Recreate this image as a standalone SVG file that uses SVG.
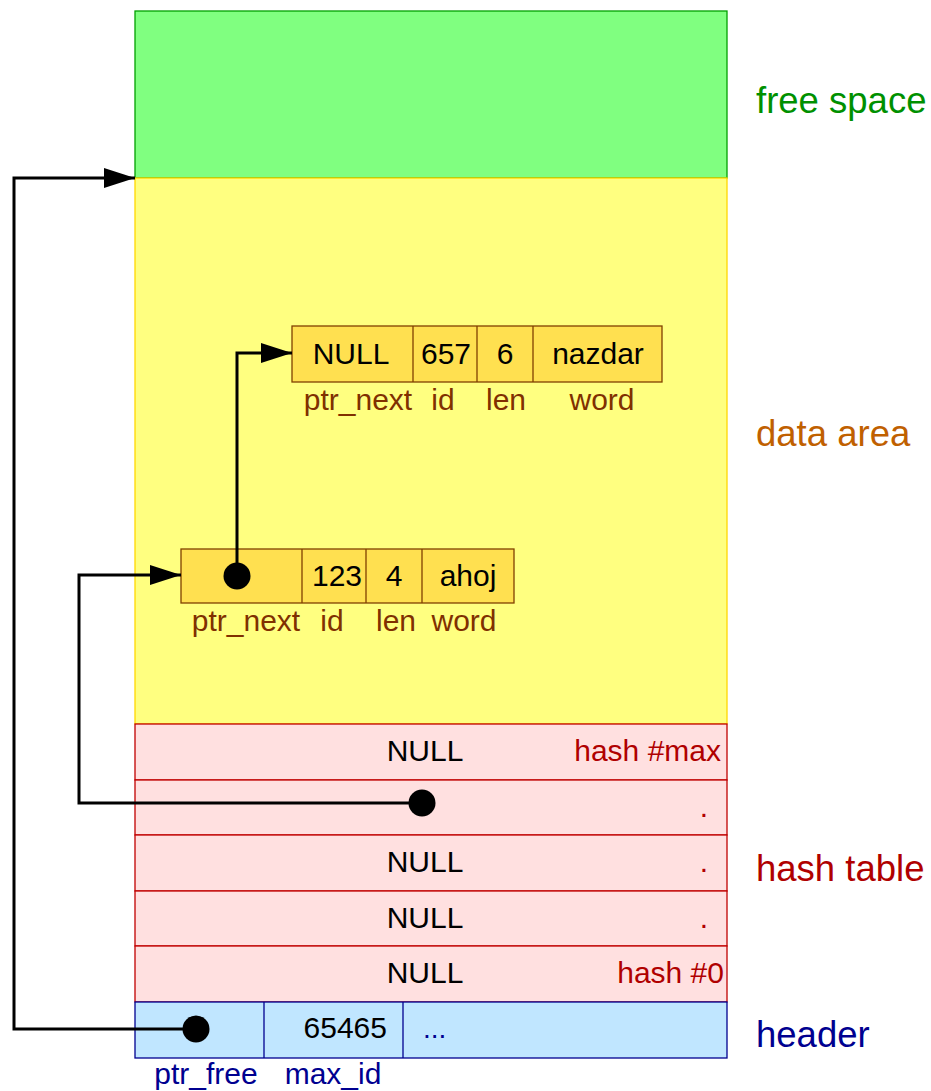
<svg xmlns="http://www.w3.org/2000/svg" width="931" height="1091" viewBox="0 0 931 1091">
<defs>
<marker id="arr" markerUnits="userSpaceOnUse" markerWidth="32" markerHeight="20" refX="31" refY="10" orient="auto">
<path d="M0,0 L31,10 L0,20 Z" fill="#000"/>
</marker>
<style>
text{font-family:"Liberation Sans",Arial,sans-serif;}
.t{font-size:30px;fill:#000;}
.c{text-anchor:middle;}
.e{text-anchor:end;}
.big{font-size:36.5px;}
.nl{font-size:30px;fill:#803000;text-anchor:middle;}
.node{fill:#ffe050;stroke:#804000;stroke-width:1.3;}
.hash{fill:#ffe0e0;stroke:#c00000;stroke-width:1.3;}
.hl{font-size:30px;fill:#b00000;text-anchor:end;}
.hdr{fill:#c0e6ff;stroke:#000090;stroke-width:1.3;}
.conn{fill:none;stroke:#000;stroke-width:3;}
.dot{fill:#000;}
</style>
</defs>
<rect width="931" height="1091" fill="#fff"/>

<g id="free-space">
<rect x="135" y="11" width="592" height="167" fill="#80ff80" stroke="#00a000" stroke-width="1.3"/>
<text x="756" y="113" class="big" fill="#009000">free space</text>
</g>

<g id="data-area">
<rect x="135" y="178" width="592" height="546" fill="#ffff80" stroke="#ffd700" stroke-width="1.3"/>
<text x="756" y="446" class="big" fill="#c06000">data area</text>
</g>

<g id="node1">
<rect class="node" x="292" y="326" width="370" height="56"/>
<line class="node" x1="413" y1="326" x2="413" y2="382"/>
<line class="node" x1="477" y1="326" x2="477" y2="382"/>
<line class="node" x1="533" y1="326" x2="533" y2="382"/>
<text class="t c" x="351" y="364">NULL</text>
<text class="t c" x="446" y="364">657</text>
<text class="t c" x="505" y="364">6</text>
<text class="t c" x="598" y="364">nazdar</text>
<text class="nl" x="358" y="410">ptr_next</text>
<text class="nl" x="443" y="410">id</text>
<text class="nl" x="506" y="410">len</text>
<text class="nl" x="602" y="410">word</text>
</g>

<g id="node2">
<rect class="node" x="181" y="549" width="333" height="54"/>
<line class="node" x1="302" y1="549" x2="302" y2="603"/>
<line class="node" x1="366" y1="549" x2="366" y2="603"/>
<line class="node" x1="422" y1="549" x2="422" y2="603"/>
<text class="t c" x="337" y="586">123</text>
<text class="t c" x="394" y="586">4</text>
<text class="t c" x="468" y="586">ahoj</text>
<text class="nl" x="246" y="631">ptr_next</text>
<text class="nl" x="332" y="631">id</text>
<text class="nl" x="396" y="631">len</text>
<text class="nl" x="464" y="631">word</text>
</g>

<g id="hash-table">
<rect class="hash" x="135" y="724" width="592" height="56"/>
<rect class="hash" x="135" y="780" width="592" height="55"/>
<rect class="hash" x="135" y="835" width="592" height="56"/>
<rect class="hash" x="135" y="891" width="592" height="55"/>
<rect class="hash" x="135" y="946" width="592" height="56"/>
<text class="t c" x="425" y="761">NULL</text>
<text class="t c" x="425" y="872">NULL</text>
<text class="t c" x="425" y="928">NULL</text>
<text class="t c" x="425" y="983">NULL</text>
<text class="hl" x="721" y="761">hash #max</text>
<text class="hl" x="708" y="817">.</text>
<text class="hl" x="708" y="872">.</text>
<text class="hl" x="708" y="928">.</text>
<text class="hl" x="724" y="983">hash #0</text>
<text class="big" x="756" y="881" fill="#b00000">hash table</text>
</g>

<g id="header">
<rect class="hdr" x="135" y="1002" width="592" height="56"/>
<line class="hdr" x1="264" y1="1002" x2="264" y2="1058"/>
<line class="hdr" x1="403" y1="1002" x2="403" y2="1058"/>
<text class="t e" x="387" y="1038">65465</text>
<text x="423" y="1038" font-size="28" fill="#000090">...</text>
<text x="206" y="1084" font-size="30" fill="#000090" text-anchor="middle">ptr_free</text>
<text x="333" y="1084" font-size="30" fill="#000090" text-anchor="middle">max_id</text>
<text class="big" x="756" y="1047" fill="#000090">header</text>
</g>

<g id="connectors">
<polyline class="conn" points="237,576 237,353 292,353" marker-end="url(#arr)"/>
<polyline class="conn" points="422,803 79,803 79,575 181,575" marker-end="url(#arr)"/>
<polyline class="conn" points="196,1029 14,1029 14,178 135,178" marker-end="url(#arr)"/>
<circle class="dot" cx="237" cy="576" r="13.5"/>
<circle class="dot" cx="422" cy="803" r="13.5"/>
<circle class="dot" cx="196" cy="1029" r="13.5"/>
</g>
</svg>
